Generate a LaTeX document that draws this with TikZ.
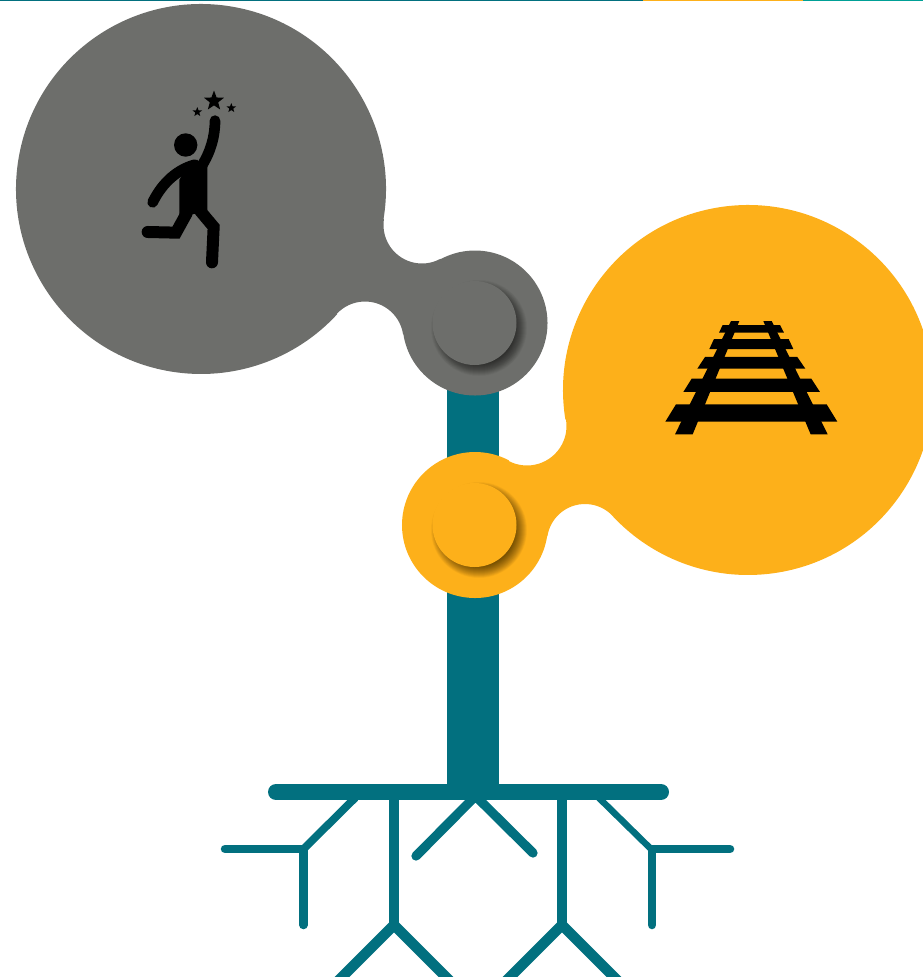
\documentclass[tikz,border=0pt]{standalone}
\usepackage{xcolor}
\usetikzlibrary{shapes.geometric, calc}
\definecolor{stemteal}{HTML}{02707F}
\definecolor{bubblegray}{HTML}{6D6E6B}
\definecolor{bubbleamber}{HTML}{FDB01A}
\definecolor{stripgreen}{HTML}{00A096}
\tikzset{
  root/.style={stemteal, line width=#1, line cap=round, line join=miter},
  root/.default=10.5pt,
  pinshadow/.style={black, opacity=0.028},
  limb/.style={black, line width=#1, line cap=round, line join=miter},
  starmark/.style={star, star points=5, star point ratio=2.4, fill=black, inner sep=0pt, minimum size=#1},
  icon/.style={shift={#1}, x=0.3333pt, y=-0.3333pt}
}
\begin{document}
\begin{tikzpicture}[x=1pt, y=1pt]
    \useasboundingbox (0,0) rectangle (923,-977);
    % Top strip
    \fill[stemteal] (0,0) rectangle (643,-1.2);
    \fill[bubbleamber] (643,0) rectangle (803,-1.2);
    \fill[stripgreen] (803,0) rectangle (923,-1.2);
    % Stem and bar
    \fill[stemteal] (447,-370) rectangle (499,-795);
    \draw[root=16pt] (276,-792) -- (661,-792);
    % Roots
    \draw[root] (394,-792) -- (394,-925);
    \draw[root] (562,-792) -- (562,-925);
    \draw[root] (330,-989) -- (394,-925) -- (458,-989);
    \draw[root] (498,-989) -- (562,-925) -- (626,-989);
    \draw[root=9.3pt] (416,-856) -- (475.5,-796) -- (533,-853);
    \draw[root=7.8pt] (355,-798) -- (303.5,-849);
    \draw[root=8.5pt] (225,-849) -- (303.5,-849) -- (303.5,-925);
    \draw[root=6.5pt] (599,-798) -- (651,-849);
    \draw[root=8.5pt] (730,-849) -- (652,-849) -- (652,-925);
    % Gray bubble
    \fill[bubblegray] ($(201,-189)+(-9.25:185)$) arc (-9.25:317.4:185)
      -- ($(365,-340)+(137.4:38.5)$) arc (137.4:8.8:38.5)
      -- ($(475,-323)+(188.8:72.5)$) arc (188.8:478.4:72.5)
      -- ($(422,-225)+(298.4:38.5)$) arc (298.4:170.75:38.5) -- cycle;
    % Amber bubble
    \fill[bubbleamber] ($(748,-390)+(189.25:185)$) arc (189.25:-137:185)
      -- ($(585,-542)+(43:38)$) arc (43:171.2:38)
      -- ($(475,-525)+(-8.8:73)$) arc (-8.8:-297.7:73)
      -- ($(527,-426)+(242.3:39.5)$) arc (242.3:369.25:39.5) -- cycle;
    % Pins
    \foreach \r in {36,36.5,...,48} {
      \fill[pinshadow] (479,-328) circle (\r);
      \fill[pinshadow] (479,-530) circle (\r);
    }
    \fill[bubblegray] (474.5,-323) circle (42);
    \fill[bubbleamber] (474.5,-525) circle (42);
    % Jumping figure
    \fill[black] (185.7,-145) circle (11.7);
    \begin{scope}[icon={(120,-80)}]
      \fill[black] (178,300) -- (205,250) -- (262,255) -- (262,392) -- (222,402) -- (178,410) -- cycle;
      \draw[limb=10.7pt] (285,122) .. controls (285,170) and (272,215) .. (245,258);
      \draw[limb=10.7pt] (98,367) .. controls (120,322) and (160,272) .. (225,254);
      \draw[limb=12pt] (240,392) -- (281,441) -- (276,547);
      \draw[limb=12pt] (200,400) -- (168,458) -- (83,456);
    \end{scope}
    \node[starmark=21pt] (bigstar) at (214,-101) {};
    \node[starmark=10pt] (leftstar) at (197.3,-112) {};
    \node[starmark=10pt] (rightstar) at (231.3,-108) {};
    % Railway track
    \begin{scope}[icon={(650,-310)}]
      \fill[black] (218,45) -- (390,45) -- (402,68) -- (207,68) -- cycle;
      \fill[black] (192,87) -- (416,87) -- (430,117) -- (178,117) -- cycle;
      \fill[black] (165,141) -- (442,141) -- (466,176) -- (142,176) -- cycle;
      \fill[black] (125,206) -- (484,206) -- (510,246) -- (100,246) -- cycle;
      \fill[black] (78,283) -- (530,283) -- (562,335) -- (46,335) -- cycle;
      \fill[black] (243,33) -- (268,33) -- (128,373) -- (75,373) -- cycle;
      \fill[black] (340,33) -- (365,33) -- (533,373) -- (482,373) -- cycle;
    \end{scope}
\end{tikzpicture}
\end{document}
